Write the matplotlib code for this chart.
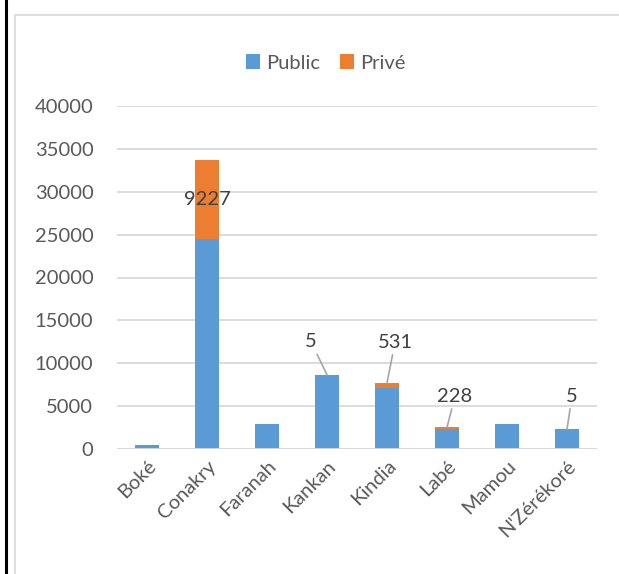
import matplotlib
matplotlib.use("Agg")
import matplotlib.pyplot as plt
from matplotlib.lines import Line2D
from matplotlib.patches import Rectangle

# data
regions = ["Boké", "Conakry", "Faranah", "Kankan", "Kindia", "Labé", "Mamou", "N'Zérékoré"]
public = [420, 24500, 2950, 8650, 7150, 2300, 2950, 2300]
prive = [0, 9227, 0, 5, 531, 228, 0, 5]
yticks = [0, 5000, 10000, 15000, 20000, 25000, 30000, 35000, 40000]

blue = "#5B9BD5"
orange = "#ED7D31"
grey_txt = "#595959"
lbl_txt = "#404040"
grid_col = "#D9D9D9"

plt.rcParams['font.family'] = ['Lato', 'DejaVu Sans']

W, H = 619, 574
fig = plt.figure(figsize=(W / 100, H / 100), dpi=100)

def px(x, y):
    return x / W, 1 - y / H

##outer frame lines
fig.add_artist(Line2D([6 / W, 6 / W], [0, 1], color="black", lw=2.2, transform=fig.transFigure))
fig.add_artist(Rectangle(px(15, 600), 700 / W, 585 / H, fill=False, ec=grid_col, lw=1.2,
                         transform=fig.transFigure))

x0, x1, ytop, ybot = 117, 597, 106, 449
ax = fig.add_axes([x0 / W, 1 - ybot / H, (x1 - x0) / W, (ybot - ytop) / H])

xs = list(range(len(regions)))
ax.bar(xs, public, width=0.4, color=blue, label="Public", zorder=3)
ax.bar(xs, prive, width=0.4, bottom=public, color=orange, label="Privé", zorder=3)

ax.set_xlim(-0.5, len(regions) - 0.5)
ax.set_ylim(0, 40000)
ax.set_yticks(yticks)
ax.yaxis.grid(True, color=grid_col, lw=1.3, zorder=0)
for s in ax.spines.values():
    s.set_visible(False)
ax.tick_params(length=0, labelsize=14.5, colors=grey_txt)
ax.tick_params(axis='y', pad=17)
ax.set_xticks(xs)
ax.set_xticklabels(regions, rotation=45, ha='right', rotation_mode='anchor')
ax.tick_params(axis='x', pad=6)
ax.axhline(0, color=grid_col, lw=1.3, zorder=4)

##data labels for the private part
# Conakry centered in segment
ax.text(1, public[1] + prive[1] / 2, str(prive[1]), ha='center', va='center',
        fontsize=14.5, color=lbl_txt, zorder=5)
offsets = {3: (-16, 33), 4: (8, 41), 5: (8, 31), 7: (5, 33)}
for i, (dx, dy) in offsets.items():
    ax.annotate(str(prive[i]), xy=(i, public[i] + prive[i]), xytext=(dx, dy),
                textcoords='offset pixels', ha='center', va='center',
                fontsize=14.5, color=lbl_txt,
                arrowprops=dict(arrowstyle='-', color="#A6A6A6", lw=1.2,
                                shrinkA=1, shrinkB=0))

fig.legend(loc='center', bbox_to_anchor=px(326, 63), ncol=2, frameon=False,
           fontsize=14.5, labelcolor=grey_txt, handlelength=0.7, handleheight=0.7,
           handletextpad=0.3, columnspacing=1.0)

fig.savefig("out.png", dpi=100, facecolor="white")
